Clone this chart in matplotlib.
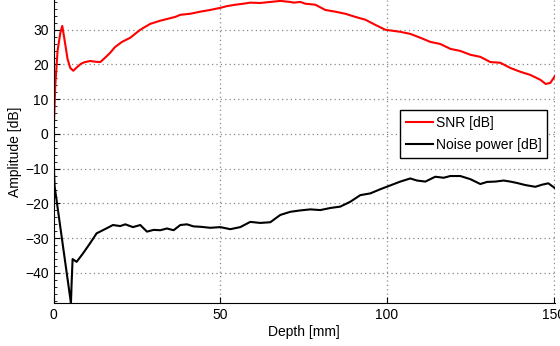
import numpy as np
from matplotlib import pyplot as plt
from matplotlib.ticker import AutoMinorLocator

plt.rcParams['font.family'] = ['Liberation Sans', 'DejaVu Sans']

# SNR curve
snr_x = [0, 0.5, 1.2, 2.0, 2.6, 3.3, 4.2, 5.0, 5.9, 7.0, 8.2, 9.4, 11, 12.5, 14, 15.4,
         17, 18.4, 20.5, 23, 26, 29, 32, 36.5, 38, 41, 44, 47, 50, 52, 54.5, 57, 59,
         62, 65, 68, 71, 72, 74, 75.5, 78.5, 81.5, 84.5, 87.5, 90.5, 93.5, 96.5,
         99.5, 104, 107, 110, 113, 116, 119, 122, 125, 128, 131, 134, 137, 140,
         143, 146, 147.6, 149, 150.4]
snr_y = [0, 14, 24, 29, 31.1, 27, 21.5, 19, 18.2, 19.2, 20.2, 20.7, 21.0, 20.8, 20.7, 21.9,
         23.4, 25, 26.5, 27.7, 30, 31.7, 32.6, 33.7, 34.3, 34.6, 35.2, 35.7, 36.3, 36.8, 37.2, 37.5, 37.8,
         37.7, 38, 38.3, 38, 37.8, 38, 37.5, 37.2, 35.7, 35.2, 34.6, 33.7, 32.9, 31.4,
         30, 29.4, 28.8, 27.7, 26.5, 25.9, 24.5, 23.9, 22.8, 22.2, 20.7, 20.5, 19, 17.9,
         17, 15.6, 14.4, 14.7, 16.7]

# noise power curve
noise_x = [0, 0.1, 0.3, 5.2, 5.3, 5.4, 5.7, 6.9, 8.8, 10.9, 12.9, 16, 17.8, 20, 21.5,
           23.8, 26, 28, 30, 32, 34, 36, 38, 40, 42, 44, 47, 50, 53, 56, 59, 62, 65,
           68, 71, 74, 77, 80, 83, 86, 89, 92, 95, 98, 101, 104, 107, 109, 111.5, 114.5,
           117, 119, 122, 125, 128, 130, 132.5, 135, 137, 139, 141.5, 144.5, 146.5,
           148.4, 150.4]
noise_y = [0, -10, -15, -48.7, -46, -43, -36, -36.8, -34.4, -31.5, -28.6, -27.1, -26.2, -26.5, -26.0,
           -26.8, -26.2, -28.1, -27.6, -27.7, -27.2, -27.7, -26.2, -26, -26.6, -26.7, -27, -26.8, -27.4, -26.8, -25.3, -25.6, -25.4,
           -23.3, -22.4, -22.0, -21.7, -21.9, -21.3, -20.9, -19.5, -17.6, -17.1, -15.9, -14.8, -13.7, -12.8, -13.4, -13.7, -12.3,
           -12.6, -12.1, -12.1, -13.0, -14.4, -13.8, -13.7, -13.4, -13.7, -14.1, -14.7, -15.2, -14.6,
           -14.2, -15.6]

fig = plt.figure(figsize=(5.6, 3.46), dpi=100)
ax = fig.add_axes([53.6 / 560, 1 - 303.3 / 346, (555 - 53.6) / 560, 303.3 / 346])

ax.plot(snr_x, snr_y, color='#ff0000', lw=1.5, label='SNR [dB]')
ax.plot(noise_x, noise_y, color='black', lw=1.5, label='Noise power [dB]')

ax.set_xlim(0, 150.4)
ax.set_ylim(-48.73, 38.56)
ax.set_xticks([0, 50, 100, 150])
ax.set_yticks([-40, -30, -20, -10, 0, 10, 20, 30])
ax.yaxis.set_minor_locator(AutoMinorLocator(5))
ax.tick_params(direction='in', labelsize=10, length=4)
ax.tick_params(which='minor', direction='in', length=2)
ax.grid(True, linestyle=(0, (1, 2.5)), color='#888888', lw=0.9)
ax.spines['top'].set_visible(False)
ax.spines['right'].set_visible(False)

ax.set_xlabel('Depth [mm]', fontsize=10, labelpad=2)
ax.set_ylabel('Amplitude [dB]', fontsize=10, labelpad=2)

leg = ax.legend(loc='upper right', bbox_to_anchor=(0.984, 0.637), borderaxespad=0,
                fontsize=10, fancybox=False, framealpha=1, edgecolor='black',
                handlelength=1.95, borderpad=0.4, labelspacing=0.6, handletextpad=0.2)
leg.get_frame().set_linewidth(1.0)

fig.savefig('out.png', dpi=100)
